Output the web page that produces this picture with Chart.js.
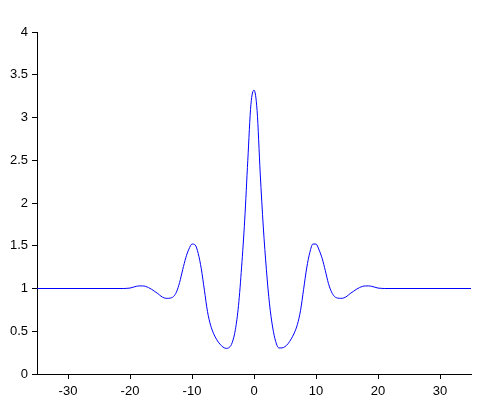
<!DOCTYPE html>
<html>
<head>
<meta charset="utf-8">
<script src="https://cdn.jsdelivr.net/npm/chart.js@4.4.0/dist/chart.umd.min.js"></script>
<style>
  html, body { margin: 0; padding: 0; background: #fff; }
  #wrap { width: 482px; height: 414px; }
</style>
</head>
<body>
<div id="wrap"><canvas id="myChart" width="482" height="414"></canvas></div>
<script>
const xValues = [
  -35, -21, -20.5, -20, -19.5, -19, -18.5, -18, -17.5, -17, -16.5, -16, -15.5, -15,
  -14.5, -14, -13.5, -13, -12.5, -12, -11.5, -11, -10.5, -10, -9.5, -9, -8.5, -8,
  -7.5, -7, -6.5, -6, -5.5, -5, -4.5, -4, -3.5, -3, -2.5, -2, -1.5, -1, -0.5, 0,
  0.5, 1, 1.5, 2, 2.5, 3, 3.5, 4, 4.5, 5, 5.5, 6, 6.5, 7, 7.5, 8, 8.5, 9, 9.5, 10,
  10.5, 11, 11.5, 12, 12.5, 13, 13.5, 14, 14.5, 15, 15.5, 16, 16.5, 17, 17.5, 18,
  18.5, 19, 19.5, 20, 20.5, 21, 35,
];
const yValues = [
  1.0, 1.0, 1.002, 1.005, 1.015, 1.025, 1.03, 1.03, 1.025, 1.01, 0.99, 0.965, 0.94, 0.91,
  0.89, 0.885, 0.888, 0.905, 0.96, 1.07, 1.22, 1.36, 1.46, 1.52, 1.51, 1.41, 1.23, 0.98,
  0.73, 0.57, 0.47, 0.40, 0.35, 0.315, 0.30, 0.31, 0.37, 0.52, 0.80, 1.25, 1.80, 2.50, 3.15, 3.32,
  3.08, 2.35, 1.72, 1.22, 0.82, 0.55, 0.38, 0.305, 0.305, 0.32, 0.355, 0.41, 0.48, 0.58, 0.74, 0.99, 1.24, 1.42, 1.52, 1.52,
  1.45, 1.35, 1.21, 1.06, 0.96, 0.905, 0.888, 0.885, 0.89, 0.91, 0.94, 0.965, 0.99, 1.01, 1.025, 1.03,
  1.03, 1.025, 1.015, 1.005, 1.002, 1.0, 1.0,
];
const xTicks = [-30, -20, -10, 0, 10, 20, 30];
const yTicks = [0, 0.5, 1, 1.5, 2, 2.5, 3, 3.5, 4];

const ctx = document.getElementById('myChart').getContext('2d');

const axisStyle = {
  grid: { display: true, drawOnChartArea: false, drawTicks: true, tickLength: 5, color: '#000', lineWidth: 1 },
  border: { display: true, color: '#000', width: 1 },
};
const tickFont = { family: 'Liberation Sans', size: 13 };

new Chart(ctx, {
  type: 'scatter',
  data: {
    datasets: [{
      data: xValues.map((x, i) => ({ x, y: yValues[i] })),
      showLine: true,
      borderColor: '#0000ff',
      borderWidth: 1,
      pointRadius: 0,
      cubicInterpolationMode: 'monotone',
    }],
  },
  options: {
    responsive: false,
    animation: false,
    layout: { padding: { top: 32, right: 11, left: 0, bottom: 0 } },
    plugins: { legend: { display: false }, tooltip: { enabled: false } },
    scales: {
      x: {
        ...axisStyle,
        type: 'linear',
        min: -35,
        max: 35,
        afterBuildTicks: (scale) => { scale.ticks = xTicks.map((value) => ({ value })); },
        afterFit: (scale) => { scale.height = 40; },
        ticks: { color: '#000', padding: 5, font: tickFont, callback: (v) => String(v) },
      },
      y: {
        ...axisStyle,
        min: 0,
        max: 4,
        afterBuildTicks: (scale) => { scale.ticks = yTicks.map((value) => ({ value })); },
        afterFit: (scale) => { scale.width = 37; },
        ticks: { color: '#000', padding: 4, font: tickFont, callback: (v) => String(v) },
      },
    },
  },
});
</script>
</body>
</html>
